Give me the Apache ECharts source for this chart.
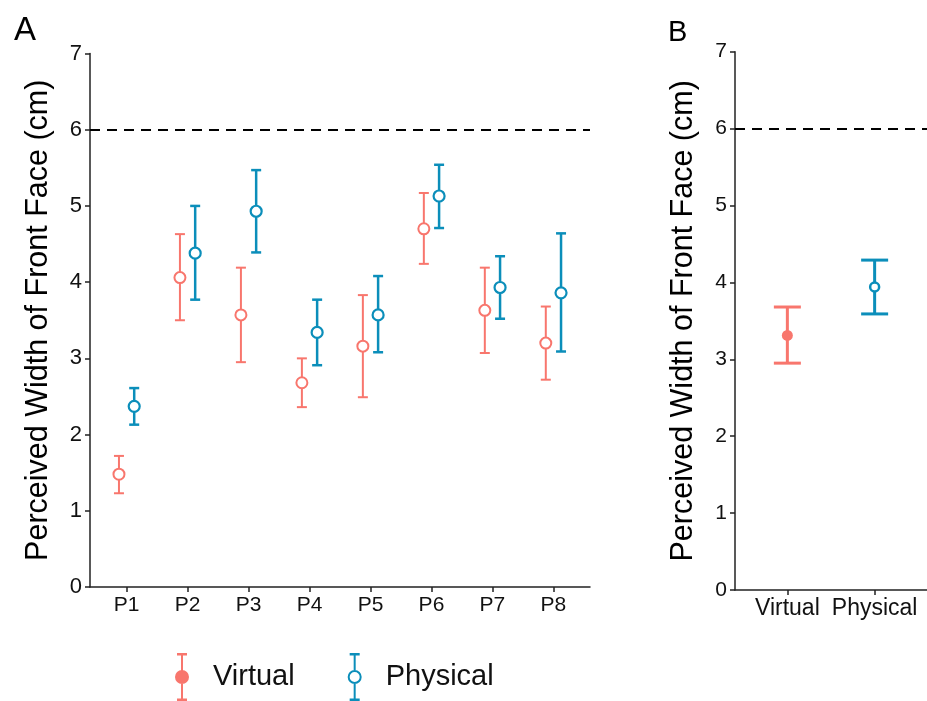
<!DOCTYPE html>
<head>
    <meta charset="UTF-8">
    <title>Perceived width</title>
    <script src="https://cdn.jsdelivr.net/npm/echarts@6/dist/echarts.min.js"></script>
</head>
<body style="margin:0">
<div id="chart" style="width:927px;height:701px;"></div>
<script type="text/javascript">

    // panel A - per participant
    var participants = ['P1', 'P2', 'P3', 'P4', 'P5', 'P6', 'P7', 'P8'];
    var virtualMean = [1.48, 4.06, 3.57, 2.68, 3.16, 4.70, 3.63, 3.20];
    var virtualLow = [1.23, 3.50, 2.95, 2.36, 2.49, 4.24, 3.07, 2.72];
    var virtualHigh = [1.72, 4.63, 4.19, 3.00, 3.83, 5.17, 4.19, 3.68];
    var physicalMean = [2.37, 4.38, 4.93, 3.34, 3.57, 5.13, 3.93, 3.86];
    var physicalLow = [2.13, 3.77, 4.39, 2.91, 3.08, 4.71, 3.52, 3.09];
    var physicalHigh = [2.61, 5.00, 5.47, 3.77, 4.08, 5.54, 4.34, 4.64];

    // panel B - overall
    var conditions = ['Virtual', 'Physical'];
    var overallMean = [3.31, 3.94];
    var overallLow = [2.95, 3.59];
    var overallHigh = [3.68, 4.29];

    var actualWidth = 6;

    var RED = '#F8766D';
    var BLUE = '#0B8EBA';
    var FONT = 'Liberation Sans, Arial, sans-serif';

    function pos(list, shift) {
        return list.map(function (v, i) {
            return i + 1 + shift;
        });
    }

    function points(xs, ys) {
        return ys.map(function (y, i) {
            return [xs[i], y];
        });
    }

    function bars(xs, lo, hi) {
        return lo.map(function (l, i) {
            return [xs[i], l, hi[i]];
        });
    }

    function errorBar(color, width, cap) {
        return function (params, api) {
            var top = api.coord([api.value(0), api.value(2)]);
            var bot = api.coord([api.value(0), api.value(1)]);
            var st = {stroke: color, lineWidth: width};
            return {
                type: 'group',
                children: [
                    {type: 'line', shape: {x1: top[0], y1: top[1], x2: bot[0], y2: bot[1]}, style: st},
                    {type: 'line', shape: {x1: top[0] - cap / 2, y1: top[1], x2: top[0] + cap / 2, y2: top[1]}, style: st},
                    {type: 'line', shape: {x1: bot[0] - cap / 2, y1: bot[1], x2: bot[0] + cap / 2, y2: bot[1]}, style: st}
                ]
            };
        };
    }

    var xA_v = pos(participants, -0.125);
    var xA_p = pos(participants, 0.125);
    var xB = pos(conditions, 0);

    var iconFilled = 'path://M2,0H12V2.5H2Z M6,0H8V48H6Z M2,45.5H12V48H2Z M0,24A7,7 0 1,1 14,24A7,7 0 1,1 0,24Z';
    var iconOpen = 'path://M2,0H12V2.5H2Z M6,0H8V17H6Z M6,31H8V48H6Z M2,45.5H12V48H2Z ' +
        'M0,24A7,7 0 1,1 14,24A7,7 0 1,1 0,24Z M2,24A5,5 0 1,0 12,24A5,5 0 1,0 2,24Z';

    var axisLine = {lineStyle: {color: '#222', width: 1.5}};
    var nameStyle = {fontFamily: FONT, fontSize: 30.5, color: '#000'};

    var myChart = echarts.init(document.getElementById('chart'));

    myChart.setOption({
        animation: false,
        backgroundColor: '#fff',
        title: [
            {text: 'A', left: 9, top: 9, textStyle: {fontFamily: FONT, fontSize: 33, fontWeight: 'normal', color: '#000'}},
            {text: 'B', left: 663, top: 13, textStyle: {fontFamily: FONT, fontSize: 29, fontWeight: 'normal', color: '#000'}}
        ],
        legend: {
            left: 175,
            top: 653,
            padding: 0,
            itemWidth: 14,
            itemHeight: 48,
            itemGap: 53,
            textStyle: {fontFamily: FONT, fontSize: 29, color: '#111', padding: [0, 0, 0, 19]},
            data: [
                {name: 'Virtual', icon: iconFilled, itemStyle: {color: RED, borderWidth: 0}},
                {name: 'Physical', icon: iconOpen, itemStyle: {color: BLUE, borderWidth: 0}}
            ]
        },
        grid: [
            {left: 90, top: 53.5, width: 500, height: 533.5},
            {left: 735, top: 51.7, width: 197, height: 538.3}
        ],
        xAxis: [
            {
                gridIndex: 0, type: 'value', min: 0.4, max: 8.6,
                splitLine: {show: false},
                axisLine: axisLine,
                axisTick: {length: 5, customValues: pos(participants, 0), lineStyle: {color: '#222', width: 1.5}},
                axisLabel: {
                    customValues: pos(participants, 0), margin: 8,
                    fontFamily: FONT, fontSize: 21, color: '#111',
                    formatter: function (v) {
                        return participants[Math.round(v) - 1];
                    }
                }
            },
            {
                gridIndex: 1, type: 'value', min: 0.4, max: 2.6,
                splitLine: {show: false},
                axisLine: axisLine,
                axisTick: {length: 5, customValues: xB, lineStyle: {color: '#222', width: 1.5}},
                axisLabel: {
                    customValues: xB, margin: 7,
                    fontFamily: FONT, fontSize: 23, color: '#111',
                    formatter: function (v) {
                        return conditions[Math.round(v) - 1];
                    }
                }
            }
        ],
        yAxis: [
            {
                gridIndex: 0, type: 'value', min: 0, max: 7, interval: 1,
                name: 'Perceived Width of Front Face (cm)',
                nameLocation: 'middle', nameGap: 36,
                nameTextStyle: nameStyle,
                splitLine: {show: false},
                axisLine: {show: true, onZero: false, lineStyle: {color: '#222', width: 1.5}},
                axisTick: {show: true, length: 5, lineStyle: {color: '#222', width: 1.5}},
                axisLabel: {margin: 8, fontFamily: FONT, fontSize: 22, color: '#111'}
            },
            {
                gridIndex: 1, type: 'value', min: 0, max: 7, interval: 1,
                name: 'Perceived Width of Front Face (cm)',
                nameLocation: 'middle', nameGap: 36,
                nameTextStyle: nameStyle,
                splitLine: {show: false},
                axisLine: {show: true, onZero: false, lineStyle: {color: '#222', width: 1.5}},
                axisTick: {show: true, length: 5, lineStyle: {color: '#222', width: 1.5}},
                axisLabel: {margin: 8, fontFamily: FONT, fontSize: 21, color: '#111'}
            }
        ],
        series: [
            {
                name: 'Virtual', type: 'custom', xAxisIndex: 0, yAxisIndex: 0,
                renderItem: errorBar(RED, 2, 10),
                data: bars(xA_v, virtualLow, virtualHigh),
                markLine: {
                    silent: true, symbol: 'none', label: {show: false},
                    lineStyle: {color: '#000', width: 2, type: [10, 7]},
                    data: [{yAxis: actualWidth}]
                }
            },
            {
                name: 'Physical', type: 'custom', xAxisIndex: 0, yAxisIndex: 0,
                renderItem: errorBar(BLUE, 2.5, 10),
                data: bars(xA_p, physicalLow, physicalHigh)
            },
            {
                name: 'Virtual', type: 'scatter', xAxisIndex: 0, yAxisIndex: 0, z: 5,
                symbol: 'circle', symbolSize: 11,
                itemStyle: {color: '#fff', borderColor: RED, borderWidth: 2, opacity: 1},
                data: points(xA_v, virtualMean)
            },
            {
                name: 'Physical', type: 'scatter', xAxisIndex: 0, yAxisIndex: 0, z: 5,
                symbol: 'circle', symbolSize: 11,
                itemStyle: {color: '#fff', borderColor: BLUE, borderWidth: 2.2, opacity: 1},
                data: points(xA_p, physicalMean)
            },
            {
                name: 'Virtual', type: 'custom', xAxisIndex: 1, yAxisIndex: 1,
                renderItem: function (params, api) {
                    var color = params.dataIndex === 0 ? RED : BLUE;
                    return errorBar(color, 3, 27)(params, api);
                },
                data: bars(xB, overallLow, overallHigh),
                markLine: {
                    silent: true, symbol: 'none', label: {show: false},
                    lineStyle: {color: '#000', width: 2, type: [10, 7]},
                    data: [{yAxis: actualWidth}]
                }
            },
            {
                name: 'Virtual', type: 'scatter', xAxisIndex: 1, yAxisIndex: 1, z: 5,
                symbol: 'circle', symbolSize: 11,
                itemStyle: {color: RED, opacity: 1},
                data: points(xB.slice(0, 1), overallMean.slice(0, 1))
            },
            {
                name: 'Physical', type: 'scatter', xAxisIndex: 1, yAxisIndex: 1, z: 5,
                symbol: 'circle', symbolSize: 9,
                itemStyle: {color: '#fff', borderColor: BLUE, borderWidth: 2.5, opacity: 1},
                data: points(xB.slice(1), overallMean.slice(1))
            }
        ]
    });
</script>
</body>
</html>
